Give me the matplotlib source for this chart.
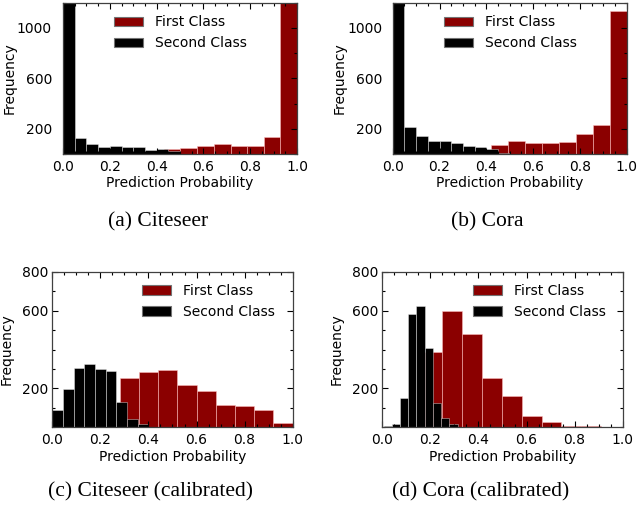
"""
Prediction-probability histograms for Citeseer / Cora, before and after calibration.
"""

import matplotlib
matplotlib.use("Agg")
import matplotlib.pyplot as plt
from matplotlib.ticker import MultipleLocator, FixedLocator

RED = "#8b0000"

# ---- (a) Citeseer ----
cite_black_edges = [0.0, 0.05, 0.1, 0.15, 0.2, 0.25, 0.3, 0.35, 0.4, 0.45, 0.5]
cite_black_counts = [1400, 126, 79, 56, 66, 59, 55, 29, 36, 24]
cite_red_edges = [0.36, 0.431, 0.502, 0.573, 0.644, 0.716, 0.787, 0.858, 0.929, 1.0]
cite_red_counts = [15, 40, 48, 67, 82, 67, 64, 134, 1300]

# ---- (b) Cora ----
cora_black_edges = [0.0, 0.05, 0.1, 0.15, 0.2, 0.25, 0.3, 0.35, 0.4, 0.45, 0.5]
cora_black_counts = [1400, 216, 141, 106, 105, 85, 62, 53, 40, 11]
cora_red_edges = [0.42, 0.4925, 0.565, 0.6375, 0.71, 0.7825, 0.855, 0.9275, 1.0]
cora_red_counts = [72, 101, 85, 88, 99, 158, 228, 1136]

# ---- (c) Citeseer (calibrated) ----
cite_cal_black_edges = [0.0, 0.0444, 0.0889, 0.1333, 0.1778, 0.2222, 0.2667, 0.3111, 0.3556, 0.4]
cite_cal_black_counts = [87, 195, 305, 324, 298, 288, 128, 43, 15]
cite_cal_red_edges = [0.28, 0.36, 0.44, 0.52, 0.60, 0.68, 0.76, 0.84, 0.92, 1.0]
cite_cal_red_counts = [252, 285, 293, 218, 187, 115, 110, 89, 21]

# ---- (d) Cora (calibrated) ----
cora_cal_black_edges = [0.005, 0.039, 0.073, 0.108, 0.142, 0.176, 0.210, 0.245, 0.279, 0.313]
cora_cal_black_counts = [5, 17, 149, 581, 625, 409, 127, 46, 15]
cora_cal_red_edges = [0.168, 0.25, 0.333, 0.415, 0.498, 0.58, 0.663, 0.745, 0.828, 0.91]
cora_cal_red_counts = [389, 600, 480, 255, 163, 57, 26, 5, 5]

captions = ["(a) Citeseer", "(b) Cora", "(c) Citeseer (calibrated)", "(d) Cora (calibrated)"]
legend_labels = ["First Class", "Second Class"]


def draw_hist(ax, edges, counts, color, edge):
    lefts = edges[:-1]
    widths = [b - a for a, b in zip(edges[:-1], edges[1:])]
    return ax.bar(lefts, counts, width=widths, align="edge", color=color,
                  edgecolor=edge, linewidth=0.6)


fig = plt.figure(figsize=(6.38, 5.08), dpi=100)

W, H = 638.0, 508.0
panels = [
    # axes box in pixels: left, top, right, bottom
    dict(box=(63, 2.5, 297, 154), red=(cite_red_edges, cite_red_counts),
         black=(cite_black_edges, cite_black_counts), ymax=1200,
         major=[200, 600, 1000], minor=200, ypad=8, leg=(0.164, 0.997), ylab_x=-0.20),
    dict(box=(392.7, 2.5, 626.7, 154), red=(cora_red_edges, cora_red_counts),
         black=(cora_black_edges, cora_black_counts), ymax=1200,
         major=[200, 600, 1000], minor=200, ypad=7.5, leg=(0.167, 0.997), ylab_x=-0.197),
    dict(box=(52.3, 271.7, 292.7, 427.3), red=(cite_cal_red_edges, cite_cal_red_counts),
         black=(cite_cal_black_edges, cite_cal_black_counts), ymax=800,
         major=[200, 600, 800], minor=100, ypad=3, leg=(0.322, 1.0), ylab_x=-0.161),
    dict(box=(382.3, 271.7, 622.7, 427.3), red=(cora_cal_red_edges, cora_cal_red_counts),
         black=(cora_cal_black_edges, cora_cal_black_counts), ymax=800,
         major=[200, 600, 800], minor=100, ypad=3, leg=(0.325, 1.0), ylab_x=-0.161),
]

for p, cap in zip(panels, captions):
    l, t, r, b = p["box"]
    ax = fig.add_axes([l / W, 1 - b / H, (r - l) / W, (b - t) / H])

    red_bars = draw_hist(ax, *p["red"], RED, (1, 0.75, 0.75, 0.6))
    black_bars = draw_hist(ax, *p["black"], "black", (1, 1, 1, 0.45))

    ax.set_xlim(0, 1)
    ax.set_ylim(0, p["ymax"])
    ax.xaxis.set_major_locator(MultipleLocator(0.2))
    ax.xaxis.set_minor_locator(MultipleLocator(0.05))
    ax.yaxis.set_major_locator(FixedLocator(p["major"]))
    ax.yaxis.set_minor_locator(MultipleLocator(p["minor"]))
    ax.tick_params(which="both", direction="in", top=True, right=True, width=0.8,
                   labelsize=10)
    ax.tick_params(which="major", length=4.5)
    ax.tick_params(which="minor", length=2.5)
    ax.tick_params(axis="y", which="major", pad=p["ypad"])
    ax.tick_params(axis="x", which="major", pad=4)
    for s in ax.spines.values():
        s.set_linewidth(0.9)
        s.set_color("0.25")

    ax.set_xlabel("Prediction Probability", fontsize=10)
    ax.set_ylabel("Frequency", fontsize=10)
    ax.xaxis.set_label_coords(0.5, -0.145)
    ax.yaxis.set_label_coords(p["ylab_x"], 0.5)

    leg = ax.legend([red_bars, black_bars], legend_labels, loc="upper left",
                    bbox_to_anchor=p["leg"], frameon=False, fontsize=10,
                    handlelength=2.1, handletextpad=0.85, labelspacing=0.5, borderpad=0.4)
    for h in leg.legend_handles:
        h.set_edgecolor("0.45")
        h.set_linewidth(0.8)

    cy = 222 if t < 100 else 492
    fig.text((l + r) / 2 / W - 0.035, 1 - cy / H, cap, ha="center", va="center",
             family="Liberation Serif", fontsize=15.5)

fig.savefig("out.png", dpi=100)
